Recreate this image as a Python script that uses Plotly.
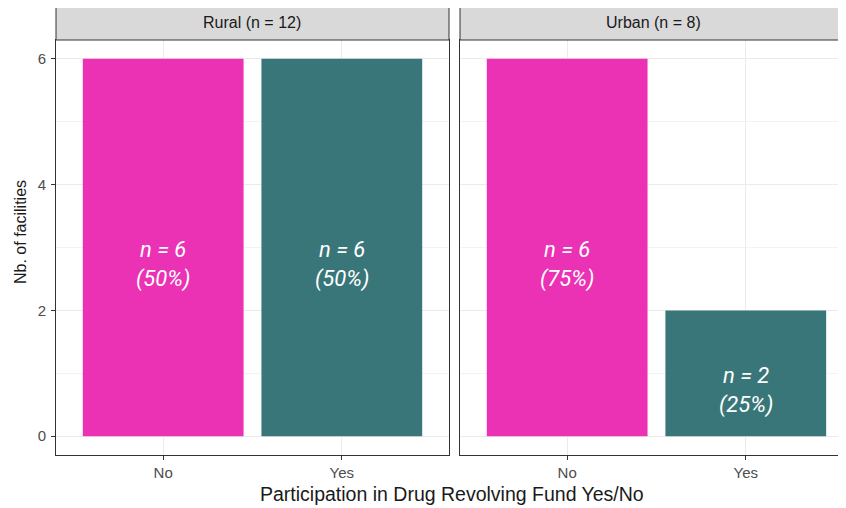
import plotly.graph_objects as go

# ---- data ----
categories = ["No", "Yes"]
facet_labels = ["Rural (n = 12)", "Urban (n = 8)"]
rural_counts = [6, 6]
urban_counts = [6, 2]
rural_pct = [50, 50]
urban_pct = [75, 25]
y_ticks = [0, 2, 4, 6]
x_title = "Participation in Drug Revolving Fund Yes/No"
y_title = "Nb. of facilities"

bar_colors = ["#EB31B4", "#397679"]

# page body has an 8px margin; the figure is sized to fill the rest of the window
OFF = 8
W, H = 846 - OFF, 508 - OFF
def px_x(p):
    return (p - OFF) / W
def px_y(p):
    return 1 - (p - OFF) / H

panel_top, panel_bot = 40, 455
strip_top = 5
left_dom = [px_x(56), px_x(449)]
right_dom = [px_x(460), 1.0]
y_dom = [px_y(panel_bot), px_y(panel_top)]

fig = go.Figure()
fig.add_trace(go.Bar(x=categories, y=rural_counts, width=0.9, marker=dict(color=bar_colors, line=dict(width=0)),
                     xaxis="x", yaxis="y", showlegend=False, hoverinfo="skip"))
fig.add_trace(go.Bar(x=categories, y=urban_counts, width=0.9, marker=dict(color=bar_colors, line=dict(width=0)),
                     xaxis="x2", yaxis="y2", showlegend=False, hoverinfo="skip"))

font_axes = "Liberation Sans, Arial, sans-serif"
common_x = dict(type="category", showline=True, mirror=True, linecolor="#333333", linewidth=1,
                ticks="outside", ticklen=4, tickcolor="#333333", showgrid=True, gridcolor="#EBEBEB",
                gridwidth=1, tickfont=dict(family=font_axes, size=15, color="#4D4D4D"), zeroline=False)
common_y = dict(range=[-0.3, 6.3], tickvals=y_ticks, showline=True, mirror=True, linecolor="#333333",
                linewidth=1, ticks="outside", ticklen=4, tickcolor="#333333", showgrid=True,
                gridcolor="#EBEBEB", gridwidth=1, zeroline=False,
                minor=dict(showgrid=True, gridcolor="#F3F3F3", gridwidth=0.6, tick0=1, dtick=2),
                tickfont=dict(family=font_axes, size=15, color="#4D4D4D"), domain=y_dom)

fig.update_layout(
    width=W, height=H, margin=dict(l=0, r=0, t=0, b=0),
    paper_bgcolor="white", plot_bgcolor="white", bargap=0.1,
    xaxis=dict(common_x, domain=left_dom, range=[-0.6, 1.6], anchor="y"),
    xaxis2=dict(common_x, domain=right_dom, range=[-0.6, 1.561], anchor="y2"),
    yaxis=dict(common_y, anchor="x", ticklabelstandoff=2),
    yaxis2=dict(common_y, anchor="x2", showticklabels=False, ticks=""),
)

# strips
for dom, label in zip([left_dom, right_dom], facet_labels):
    fig.add_shape(type="rect", xref="paper", yref="paper", x0=dom[0], x1=dom[1],
                  y0=px_y(panel_top), y1=px_y(strip_top), fillcolor="#D9D9D9",
                  line=dict(color="#333333", width=1), layer="above")
    fig.add_annotation(xref="paper", yref="paper", x=(dom[0] + dom[1]) / 2, y=px_y((panel_top + strip_top) / 2),
                       text=label, showarrow=False, font=dict(family=font_axes, size=16, color="#1A1A1A"),
                       xanchor="center", yanchor="middle")

# bar labels
label_font = dict(family="Roboto, sans-serif", size=22, color="white", style="italic")
for xr, yr, counts, pcts in [("x", "y", rural_counts, rural_pct), ("x2", "y2", urban_counts, urban_pct)]:
    for cat, c, p in zip(categories, counts, pcts):
        fig.add_annotation(xref=xr, yref=yr, x=cat, y=c / 2, yshift=-17,
                           text=f"n = {c}<br>({p}%)", showarrow=False, font=label_font,
                           xanchor="center", yanchor="middle")

# axis titles
fig.add_annotation(xref="paper", yref="paper", x=px_x(452), y=px_y(494), text=x_title, showarrow=False,
                   font=dict(family=font_axes, size=19.5, color="#1A1A1A"), xanchor="center", yanchor="middle")
fig.add_annotation(xref="paper", yref="paper", x=px_x(21), y=px_y(232), text=y_title, showarrow=False,
                   textangle=-90, font=dict(family=font_axes, size=16, color="#1A1A1A"),
                   xanchor="center", yanchor="middle")

fig.write_html("out.html")
